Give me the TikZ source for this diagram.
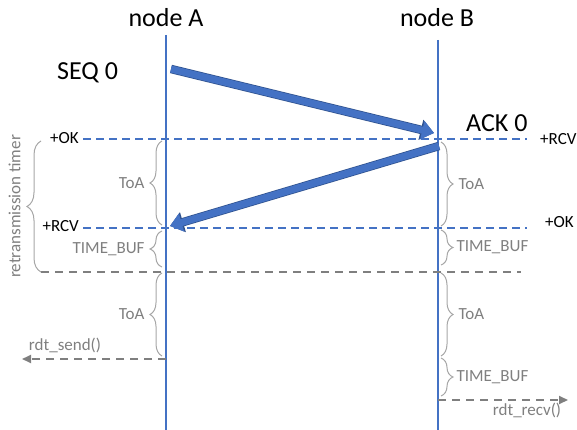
\documentclass[tikz,border=0pt]{standalone}
\usepackage{fontspec}
\setmainfont{Carlito}
\usetikzlibrary{arrows.meta, decorations.pathreplacing, positioning}
\definecolor{msblue}{HTML}{4472C4}
\definecolor{msedge}{HTML}{2F528F}
\definecolor{txtgray}{HTML}{7F7F7F}
\definecolor{dashgray}{HTML}{7F7F7F}
\definecolor{bracegray}{HTML}{A6A6A6}

\begin{document}
\begin{tikzpicture}[x=1pt, y=-1pt,
    lifeline/.style={msblue, line width=1.5pt},
    bigtxt/.style={font=\fontsize{26}{30}\selectfont, inner sep=0pt},
    smalltxt/.style={font=\fontsize{17}{20}\selectfont, inner sep=0pt},
    graytxt/.style={smalltxt, text=txtgray},
    bluedash/.style={msblue, line width=1.5pt, dash pattern=on 8pt off 5pt},
    graydash/.style={dashgray, line width=2pt, dash pattern=on 8pt off 6pt},
    timebrace/.style={draw=bracegray, line width=1pt, decorate, decoration={brace, amplitude=#1}},
    timebrace/.default=12pt,
    msg/.style={msblue, line width=7pt, -{Triangle[length=12pt, width=18pt]},
        preaction={draw=msedge, line width=8.5pt, -{Triangle[length=13.5pt, width=20pt]}}},
    call/.style={graydash, -{Triangle[length=9pt, width=8pt]}}]
  \useasboundingbox (0,0) rectangle (577,430);

  % lifelines
  \node[bigtxt, anchor=base] (nodeA) at (166,27) {node A};
  \node[bigtxt, anchor=base] (nodeB) at (437,27) {node B};
  \coordinate (Atop) at (166,35);
  \coordinate (Abot) at (166,430);
  \coordinate (Btop) at (438,40);
  \coordinate (Bbot) at (438,430);
  \draw[lifeline] (Atop) -- (Abot);
  \draw[lifeline] (Btop) -- (Bbot);

  % messages
  \node[bigtxt, anchor=base west] (seq) at (57,80) {SEQ 0};
  \node[bigtxt, anchor=base west] (ack) at (466,132) {ACK 0};
  \coordinate (seqS) at (171,69);
  \coordinate (seqE) at (434,133);
  \coordinate (ackS) at (439,146);
  \coordinate (ackE) at (170,226);
  \draw[msg] (seqS) -- (seqE);
  \draw[msg] (ackS) -- (ackE);

  % timing lines
  \node[smalltxt, anchor=east] (okA) at (79,138) {+OK};
  \node[smalltxt, anchor=west] (rcvB) at (540,139) {+RCV};
  \draw[bluedash] (okA.east) ++(4,1) coordinate (ok1S) -- (527,139) coordinate (ok1E);
  \node[smalltxt, anchor=east] (rcvA) at (79,226) {+RCV};
  \node[smalltxt, anchor=west] (okB) at (545,222) {+OK};
  \draw[bluedash] (rcvA.east) ++(4,2) coordinate (ok2S) -- (527,228) coordinate (ok2E);
  \coordinate (bufS) at (41,272);
  \coordinate (bufE) at (521,272);
  \draw[graydash] (bufS) -- (bufE);

  % retransmission timer
  \draw[timebrace=14pt] (41,272) -- (41,141)
    node[graytxt, midway, xshift=-20pt, rotate=90, anchor=south] (retx) {retransmission timer};

  % node A intervals
  \draw[timebrace] (162,225) -- (162,141) node[graytxt, midway, left=17pt] (toaA1) {ToA};
  \draw[timebrace] (162,267) -- (162,231) node[graytxt, midway, left=17pt] (bufA) {TIME\_BUF};
  \draw[timebrace] (162,356) -- (162,273) node[graytxt, midway, left=17pt] (toaA2) {ToA};

  % node B intervals
  \draw[timebrace] (441,142) -- (441,226) node[graytxt, midway, right=17pt] (toaB1) {ToA};
  \draw[timebrace] (441,230) -- (441,265) node[graytxt, midway, right=15pt] (bufB1) {TIME\_BUF};
  \draw[timebrace] (441,273) -- (441,356) node[graytxt, midway, right=17pt] (toaB2) {ToA};
  \draw[timebrace] (441,358) -- (441,396) node[graytxt, midway, right=15pt] (bufB2) {TIME\_BUF};

  % upper layer calls
  \coordinate (sendS) at (166,359);
  \coordinate (sendE) at (22,359);
  \draw[call] (sendS) -- (sendE);
  \node[graytxt, anchor=base] (send) at (65,350) {rdt\_send()};
  \coordinate (recvS) at (438,400);
  \coordinate (recvE) at (568,400);
  \draw[call] (recvS) -- (recvE);
  \node[graytxt, anchor=base] (recv) at (527,415) {rdt\_recv()};
\end{tikzpicture}
\end{document}
